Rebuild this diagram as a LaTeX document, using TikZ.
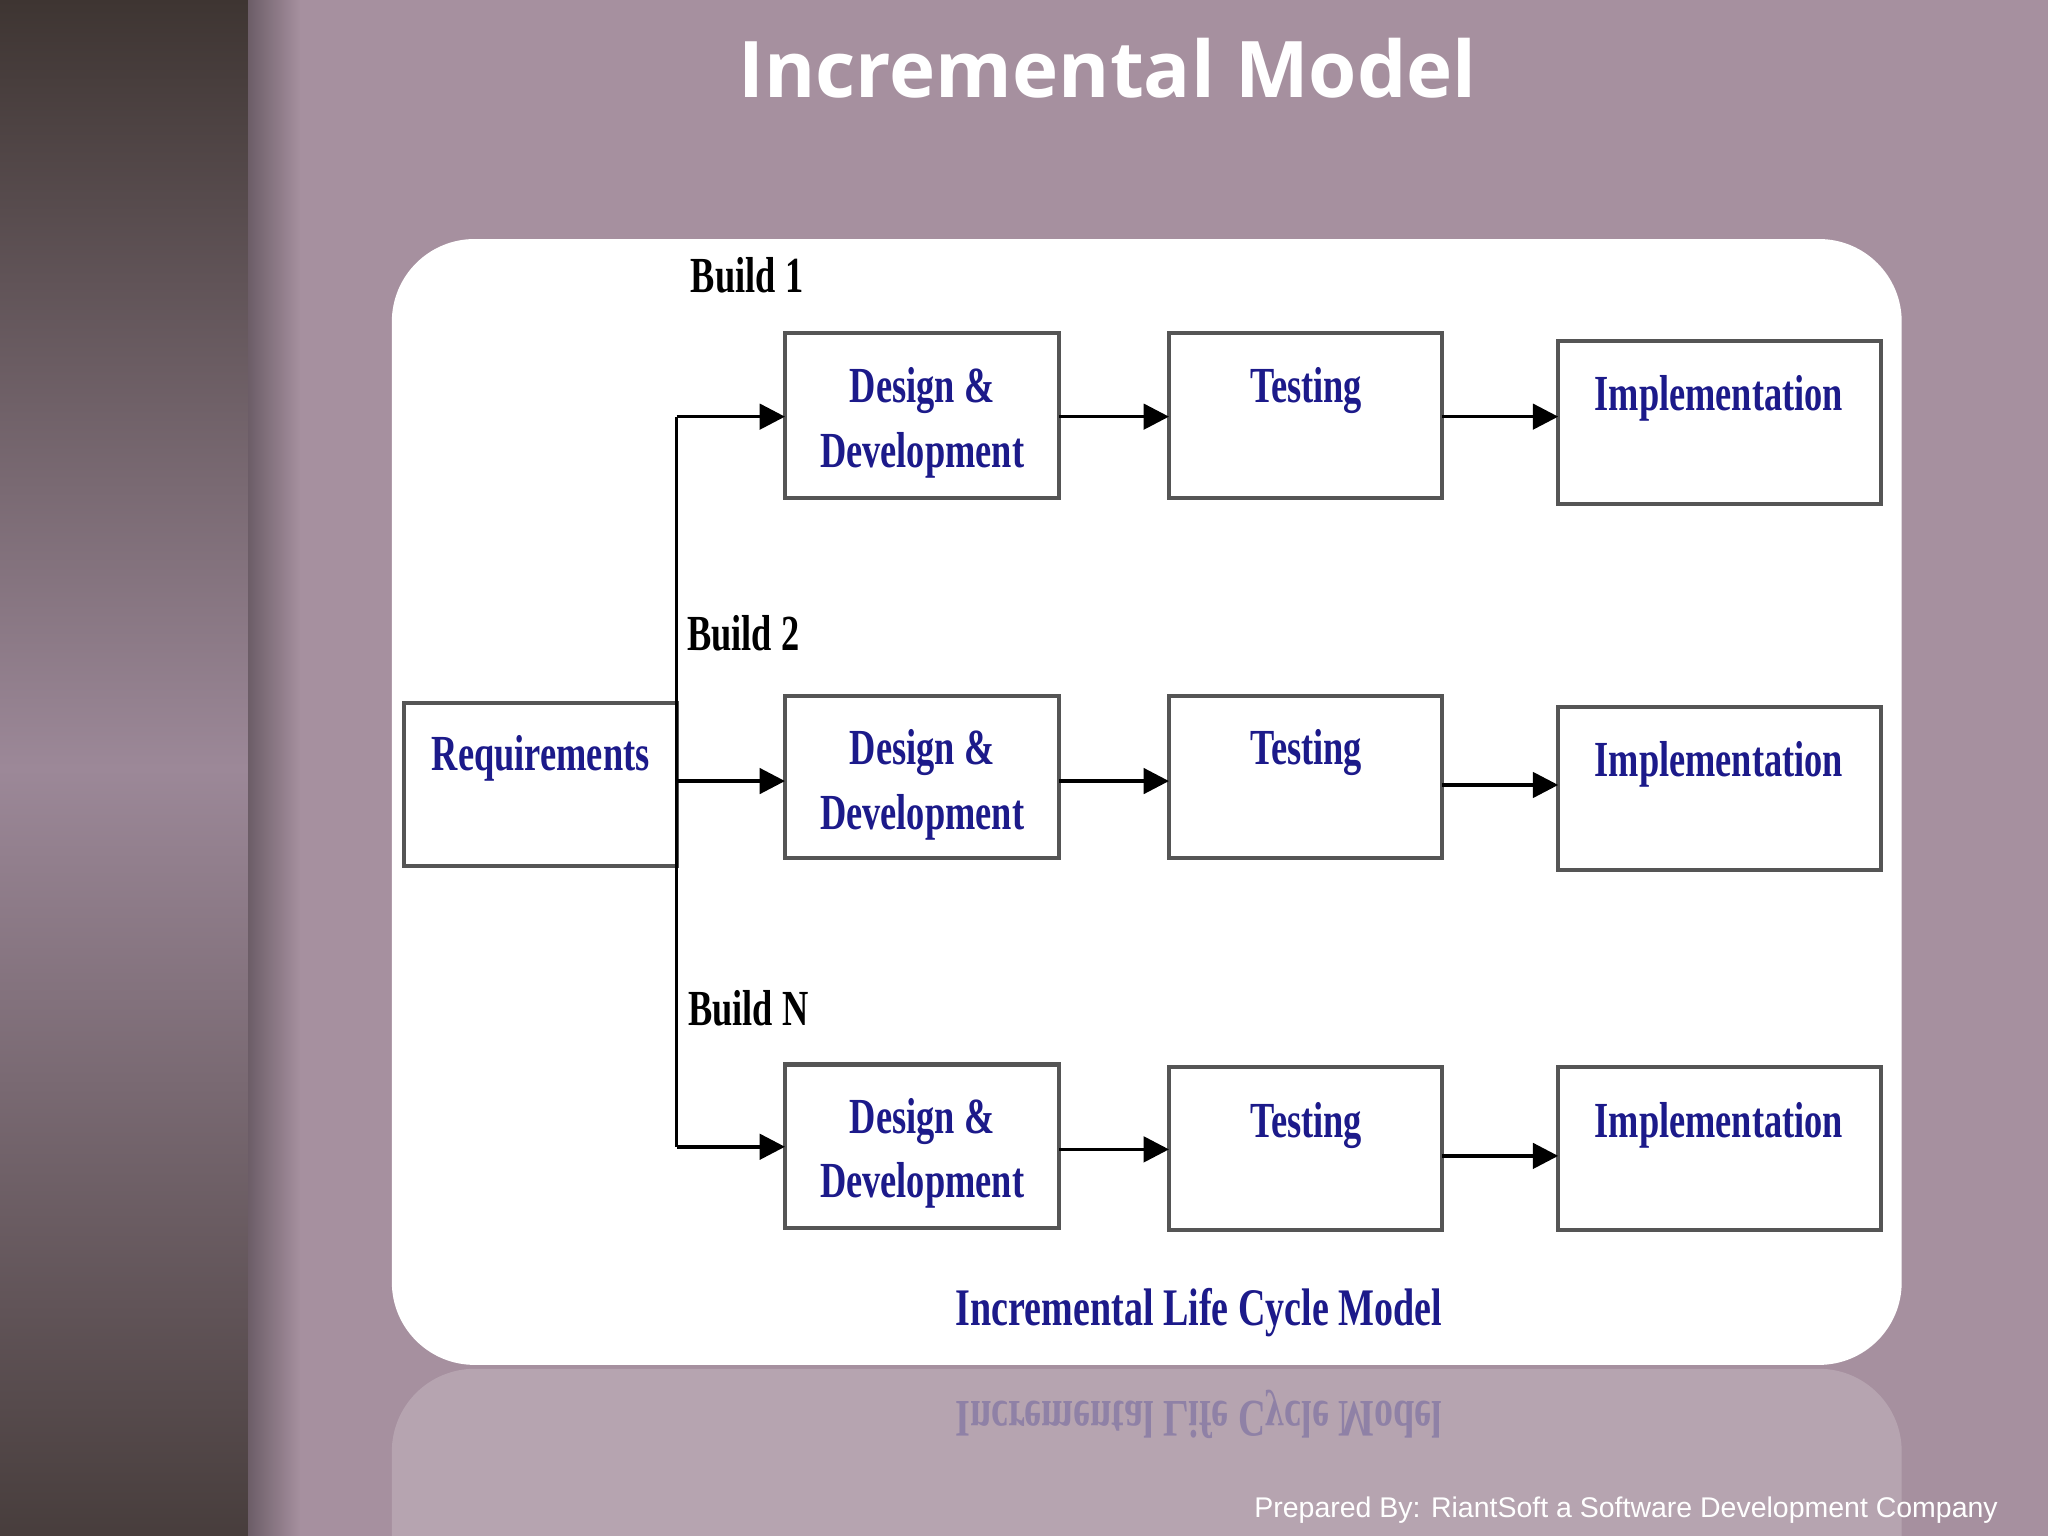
\documentclass[tikz,border=0pt]{standalone}
\usepackage{fontspec}
\setmainfont{Liberation Serif}
\newfontfamily\condfont[FakeStretch=0.72]{Liberation Serif}
\newfontfamily\titlefont{Open Sans}
\newfontfamily\footfont{Liberation Sans}
\usetikzlibrary{arrows.meta}
\definecolor{bg}{HTML}{A6909F}
\definecolor{navy}{HTML}{1C1A8A}
\definecolor{boxline}{HTML}{555555}
\definecolor{bartop}{HTML}{3E3532}
\definecolor{barmid}{HTML}{9C8898}
\begin{document}
\begin{tikzpicture}[x=0.01cm,y=-0.01cm,
  box/.style={draw=boxline,line width=0.9pt,fill=white},
  btxt/.style={anchor=north,align=center,text=navy,font=\condfont\bfseries\fontsize{11}{13.5}\selectfont,inner sep=0pt},
  blab/.style={anchor=center,font=\condfont\bfseries\fontsize{11}{13}\selectfont,inner sep=0pt},
  arr/.style={line width=0.8pt,-{Triangle[length=5.5pt,width=5.5pt]}},
  ln/.style={line width=0.8pt}]
\useasboundingbox (0,0) rectangle (1568,1176);
\fill[bg] (0,0) rectangle (1568,1176);
\shade[top color=bartop,bottom color=bartop!90!barmid,middle color=barmid] (0,0) rectangle (190,1176);
\shade[left color=black!35!bg,right color=bg] (190,0) rectangle (230,1176);
\node[font=\titlefont\bfseries\fontsize{17}{20}\selectfont,text=white] (title) at (848,52) {Incremental Model};
% reflection
\fill[white,opacity=0.18,rounded corners=18pt] (300,1048) rectangle (1456,1300);
\node[text=navy,opacity=0.25,yscale=-1,font=\condfont\bfseries\fontsize{11.5}{14}\selectfont] (refl) at (918,1083) {Incremental Life Cycle Model};
\fill[white,rounded corners=18pt] (300,183) rectangle (1456,1045);
% boxes
\draw[box] (309,538) rectangle (518,663);
\node[btxt] (req) at (414,562) {Requirements};
\foreach \i/\a/\b/\c/\d/\e/\f in {1/255/381/255/381/261/386, 2/533/657/533/657/541/666, 3/815/940/817/942/817/942}{
  \draw[box] (601,\a) rectangle (811,\b);
  \draw[box] (895,\c) rectangle (1104,\d);
  \draw[box] (1193,\e) rectangle (1440,\f);
}
\node[btxt] (d1) at (706,281) {Design \&\\[0.5pt]Development};
\node[btxt] (d2) at (706,558) {Design \&\\[0.5pt]Development};
\node[btxt] (d3) at (706,840) {Design \&\\[0.5pt]Development};
\node[btxt] (t1) at (1000,281) {Testing};
\node[btxt] (t2) at (1000,558) {Testing};
\node[btxt] (t3) at (1000,843) {Testing};
\node[btxt] (i1) at (1316,287) {Implementation};
\node[btxt] (i2) at (1316,567) {Implementation};
\node[btxt] (i3) at (1316,843) {Implementation};
\node[blab] (b1) at (572,211) {Build 1};
\node[blab] (b2) at (569,485) {Build 2};
\node[blab] (bn) at (573,772) {Build N};
\node[text=navy,font=\condfont\bfseries\fontsize{11.5}{14}\selectfont] (cap) at (918,1005) {Incremental Life Cycle Model};
% connectors
\coordinate (top) at (518,319);
\coordinate (bot) at (518,878);
\draw[ln] (top) -- (bot);
\draw[arr] (top) -- (601,319);
\draw[arr] (518,598) -- (601,598);
\draw[arr] (bot) -- (601,878);
\draw[arr] (811,319) -- (895,319);
\draw[arr] (811,598) -- (895,598);
\draw[arr] (811,880) -- (895,880);
\draw[arr] (1104,319) -- (1193,319);
\draw[arr] (1104,601) -- (1193,601);
\draw[arr] (1104,885) -- (1193,885);
\node[anchor=east,text=white,font=\footfont\fontsize{6.2}{8}\selectfont] (foot) at (1542,1156) {Prepared By: RiantSoft a Software Development Company};
\end{tikzpicture}
\end{document}
